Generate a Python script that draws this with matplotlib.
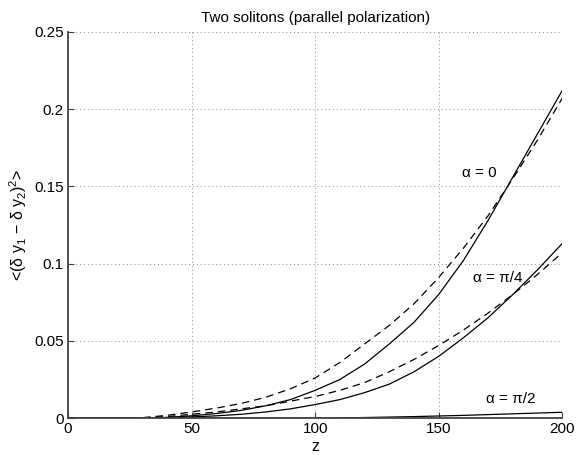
import numpy as np
import matplotlib
matplotlib.use("Agg")
import matplotlib.pyplot as plt

plt.rcParams['font.family'] = ['Liberation Sans', 'DejaVu Sans']
plt.rcParams['mathtext.default'] = 'regular'

z = [0, 10, 20, 30, 40, 50, 60, 70, 80, 90, 100, 110, 120, 130, 140, 150, 160, 170, 180, 190, 200]

# alpha = 0
a0_solid = [0, 0, 0, 0, 0.0005, 0.0015, 0.003, 0.005, 0.008, 0.012, 0.018, 0.025, 0.035, 0.048,
            0.062, 0.080, 0.102, 0.128, 0.156, 0.184, 0.212]
a0_dash = [0, 0, 0, 0.0003, 0.0018, 0.004, 0.0065, 0.0095, 0.0135, 0.019, 0.026, 0.036, 0.048, 0.060,
           0.074, 0.091, 0.110, 0.131, 0.155, 0.180, 0.207]
# alpha = pi/4
a4_solid = [0, 0, 0, 0, 0.0002, 0.0008, 0.0015, 0.0025, 0.004, 0.006, 0.0088, 0.012, 0.0165, 0.022,
            0.030, 0.040, 0.052, 0.065, 0.080, 0.096, 0.113]
a4_dash = [0, 0, 0, 0.0002, 0.001, 0.0025, 0.004, 0.006, 0.008, 0.011, 0.014, 0.018, 0.023, 0.030,
           0.038, 0.047, 0.057, 0.068, 0.080, 0.093, 0.107]
# alpha = pi/2
a2_solid = [0, 0, 0, 0, 0, 0, 0, 0, 0, 0, 0, 0.0002, 0.0004, 0.0007, 0.001, 0.0014, 0.0018, 0.0023,
            0.0028, 0.0033, 0.0038]

labels = ['α = 0', 'α = π/4', 'α = π/2']
label_pos = [(166.5, 0.1585), (174, 0.091), (179, 0.0125)]

fig = plt.figure(figsize=(5.82, 4.55), dpi=100)
ax = fig.add_axes([0.117, 0.081, 0.849, 0.849])

ax.plot(z, a0_solid, 'k-', lw=0.9)
ax.plot(z, a0_dash, 'k--', lw=0.9, dashes=(6, 4))
ax.plot(z, a4_solid, 'k-', lw=0.9)
ax.plot(z, a4_dash, 'k--', lw=0.9, dashes=(6, 4))
ax.plot(z, a2_solid, 'k-', lw=0.9)

for txt, (x, y) in zip(labels, label_pos):
    ax.text(x, y, txt, fontsize=11, ha='center', va='center')

ax.set_xlim(0, 200)
ax.set_ylim(0, 0.25)
ax.set_xticks([0, 50, 100, 150, 200])
ax.set_yticks([0, 0.05, 0.1, 0.15, 0.2, 0.25])
ax.set_yticklabels(['0', '0.05', '0.1', '0.15', '0.2', '0.25'])
ax.grid(True, linestyle=(0, (1, 3)), color='#888888', lw=0.7)
ax.set_axisbelow(True)
for s in ['top', 'right']:
    ax.spines[s].set_visible(False)
for s in ['left', 'bottom']:
    ax.spines[s].set_color('#444444')
    ax.spines[s].set_linewidth(1.3)
ax.tick_params(direction='in', length=4, color='#444444', labelsize=11, pad=3)

ax.set_title('Two solitons (parallel polarization)', fontsize=11, pad=7)
ax.set_xlabel('z', fontsize=11.5, labelpad=2)
ax.set_ylabel(r'<(δ y$_1$ − δ y$_2$)$^2$>', fontsize=11.5, labelpad=4)

fig.savefig('out.png', dpi=100)
